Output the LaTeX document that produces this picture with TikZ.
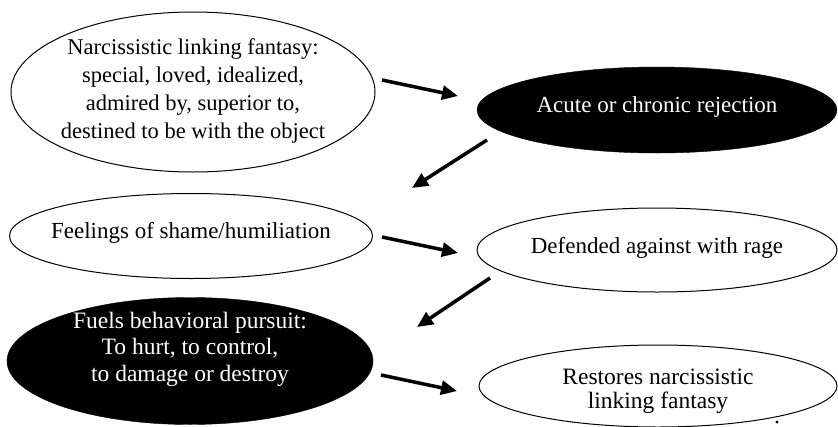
\documentclass[tikz,border=0pt]{standalone}
\usepackage{fontspec}
\setmainfont{Liberation Serif}
\usetikzlibrary{shapes.geometric,arrows.meta}
\begin{document}
\begin{tikzpicture}[x=1pt,y=-1pt,
  oval/.style={ellipse,draw=black,line width=1pt,inner sep=0pt},
  darkoval/.style={ellipse,fill=black,draw=black,inner sep=0pt},
  lbl/.style={font=\fontsize{23}{25}\selectfont,align=center,inner sep=0pt},
  wlbl/.style={lbl,text=white},
  flow/.style={line width=3.5pt,-{Triangle[length=16pt,width=14pt]}}]
\useasboundingbox[fill=white] (0,0) rectangle (838,426);

% ellipses
\node[oval,minimum width=364pt,minimum height=160pt] (n1) at (193,92) {};
\node[lbl,font=\fontsize{22.5}{28}\selectfont] (t1) at (193,91) {Narcissistic linking fantasy:\\special, loved, idealized,\\admired by, superior to,\\destined to be with the object};

\node[darkoval,minimum width=360pt,minimum height=86pt] (n2) at (657,110) {};
\node[wlbl] (t2) at (657,107) {Acute or chronic rejection};

\node[oval,minimum width=363pt,minimum height=85pt] (n3) at (191,236) {};
\node[lbl] (t3) at (191,233) {Feelings of shame/humiliation};

\node[oval,minimum width=360pt,minimum height=84pt] (n4) at (657,250) {};
\node[lbl] (t4) at (657,248) {Defended against with rage};

\node[darkoval,minimum width=366pt,minimum height=127pt] (n5) at (190,361) {};
\node[wlbl,font=\fontsize{23.5}{26.5}\selectfont] (t5) at (190,349) {Fuels behavioral pursuit:\\To hurt, to control,\\to damage or destroy};

\node[oval,minimum width=358pt,minimum height=82pt] (n6) at (658,386) {};
\node[lbl,font=\fontsize{23.5}{24}\selectfont] (t6) at (658,391) {Restores narcissistic\\linking fantasy};

% arrows
\coordinate (a1s) at (382,80);  \coordinate (a1e) at (458,96);
\coordinate (a2s) at (487,140); \coordinate (a2e) at (412,188);
\coordinate (a3s) at (382,237); \coordinate (a3e) at (458,253);
\coordinate (a4s) at (490,278); \coordinate (a4e) at (417,327);
\coordinate (a5s) at (381,375); \coordinate (a5e) at (457,391);
\draw[flow] (a1s) -- (a1e);
\draw[flow] (a2s) -- (a2e);
\draw[flow] (a3s) -- (a3e);
\draw[flow] (a4s) -- (a4e);
\draw[flow] (a5s) -- (a5e);

% stray dot
\fill (777,422) circle (1.6pt);
\end{tikzpicture}
\end{document}
